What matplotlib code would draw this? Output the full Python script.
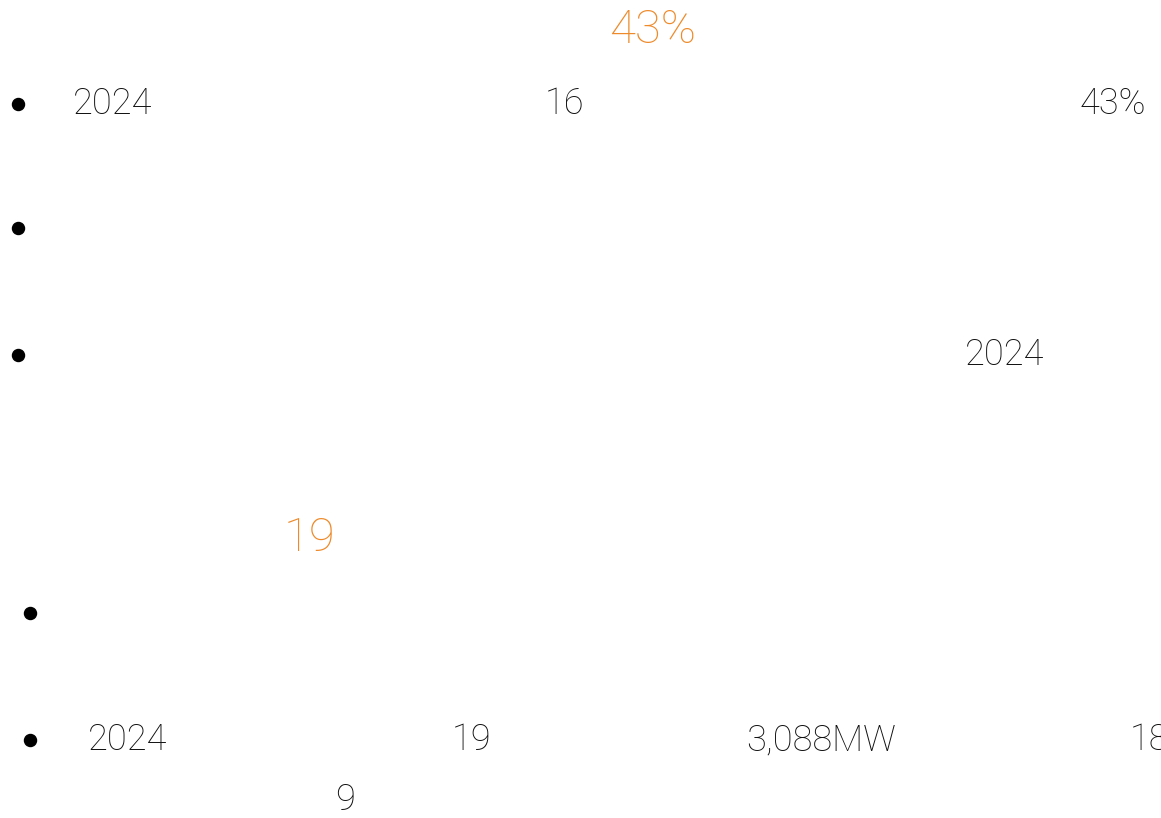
import matplotlib
matplotlib.use('Agg')
import matplotlib.pyplot as plt

plt.rcParams['font.family'] = ['Roboto', 'DejaVu Sans']

# visible text fragments (body, black)
body_texts = ['2024', '16', '43%', '2024', '2024', '19', '3,088MW', '18', '9']
body_x = [73, 545, 1080, 965, 88, 452, 746, 1130, 335]
body_y = [104, 104, 104, 355, 740, 740, 740, 740, 800]

# highlighted numbers (orange)
hl_texts = ['43%', '19']
hl_x = [609, 284]
hl_y = [30, 538]

# bullet markers
bullet_x = [18, 18, 18, 30, 30]
bullet_y = [104, 228, 355, 613, 740]

W, H = 1161, 818
fig = plt.figure(figsize=(W / 100, H / 100), dpi=100)
ax = fig.add_axes([0, 0, 1, 1])
ax.set_xlim(0, W)
ax.set_ylim(H, 0)
ax.axis('off')

for t, x, y in zip(body_texts, body_x, body_y):
    ax.text(x, y, t, fontsize=26, fontweight='light', color='#111111',
            ha='left', va='center')

for t, x, y in zip(hl_texts, hl_x, hl_y):
    ax.text(x, y, t, fontsize=34, fontweight='light', color='#ee8a2a',
            ha='left', va='center')

ax.scatter(bullet_x, bullet_y, s=75, color='black', zorder=3)

fig.savefig('out.png', dpi=100, facecolor='white')
